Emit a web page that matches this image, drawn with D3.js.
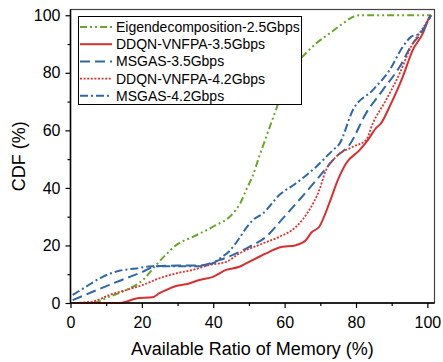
<!DOCTYPE html>
<html>
<head>
<meta charset="utf-8">
<script src="https://cdn.jsdelivr.net/npm/d3@7"></script>
<style>
  body { margin: 0; background: #fff; }
  text { font-family: Arial, "Liberation Sans", sans-serif; }
</style>
</head>
<body>
<script>
const w = 443, h = 362

// series: [available ratio %, CDF %]
const eigen25 = [[1,0],[6,0],[10.9,2.2],[15.6,4.5],[20.3,8],[24,13.2],[26.5,16.5],[29.6,20.1],[34.3,23],[39.9,26.5],[45.5,31.1],[47.5,34.5],[49.3,39.5],[51,44],[52.9,51],[54.2,55.5],[56.5,63.5],[58.5,70.5],[60.4,78.6],[62.3,82],[64.1,84.4],[68.8,90.2],[72.5,93.6],[76.3,97.1],[79.1,99.4],[81,100],[101,100]]
const ddqn35 = [[1,0],[13.7,0],[16,0.6],[18.4,1.6],[23,2],[24.9,3.4],[27,4.6],[29.6,5.9],[32.4,6.5],[36.1,8],[39.9,9.1],[43.6,11.5],[47.3,12.6],[49.2,13.8],[53.9,16.7],[55.7,17.8],[58.5,19.3],[63.2,20.1],[66,21.9],[67.5,24.5],[69.7,26.5],[72.5,34.6],[74.9,42.7],[77.2,48.5],[81,53.1],[83.3,56.6],[85.6,60.8],[87,62.4],[89.4,68.2],[91.2,73],[93.1,78.6],[95.9,87.9],[98.7,93.6],[100.6,99.4],[101,100]]
const msgas35 = [[0.6,1],[6.2,3.9],[10.9,6.3],[15.6,8.6],[20.3,10.9],[24,12.8],[30,13],[36,13],[41.7,14.9],[45.5,16.7],[50.1,19.5],[54.8,23],[59.5,29.4],[64.1,35.8],[69.7,43.9],[74.4,50.8],[78.2,55],[82.8,65.9],[87.5,74],[92.2,82],[95.9,90.2],[98.2,93.6],[101,100]]
const ddqn42 = [[0.6,0],[6.2,0.5],[10.9,2.8],[15.6,4.5],[20.3,6.3],[24.9,8.6],[29.6,10.3],[34.3,11.5],[38.9,13.2],[43.6,14.3],[47.3,17.2],[53.9,20.7],[58.5,23],[63.2,26.5],[66.9,32.3],[69.7,39.2],[71.6,46.2],[74.4,50.8],[79.1,54.3],[82.8,56.6],[84.7,62.4],[88.4,70.5],[92.2,79.7],[95.4,89],[99,96],[101,100]]
const msgas42 = [[0.6,2.8],[4.4,5.7],[9,9.1],[13.7,11.2],[18.4,12],[23,12.8],[29.6,12.8],[36.1,12.8],[39.9,13.8],[42,15.6],[44.5,18],[47.3,22.5],[49.2,26],[51.1,28.8],[53.9,31.1],[58.5,37.5],[63.2,41.6],[68.8,47.3],[73.5,53.1],[75.4,55.4],[79.1,67],[84.7,74],[89.4,80.9],[93.1,89],[95.4,92.5],[97.8,93.6],[101,100]]

const seriesNames = ['Eigendecomposition-2.5Gbps', 'DDQN-VNFPA-3.5Gbps', 'MSGAS-3.5Gbps', 'DDQN-VNFPA-4.2Gbps', 'MSGAS-4.2Gbps']
const seriesData = [eigen25, ddqn35, msgas35, ddqn42, msgas42]
const xTicks = [0, 20, 40, 60, 80, 100]
const yTicks = [0, 20, 40, 60, 80, 100]

const styles = [
    { color: '#6ba52a', dash: '7,3,2,3,2,3', width: 2 },
    { color: '#d8302f', dash: null, width: 2 },
    { color: '#2f67a8', dash: '10,5', width: 2 },
    { color: '#e0312f', dash: '2,1.6', width: 1.8 },
    { color: '#2f67a8', dash: '8,3,2,3', width: 2 }
]

const pLeft = 70.5, pRight = 434.5, pTop = 9.5, pBottom = 303

let svg = d3.select('body')
    .append('svg')
    .attr('width', w)
    .attr('height', h)

const xScale = d3.scaleLinear().domain([0, 102]).range([pLeft, pRight])
const yScale = d3.scaleLinear().domain([0, 102]).range([pBottom, pTop])

// frame
svg.append('rect')
    .attr('x', pLeft)
    .attr('y', pTop)
    .attr('width', pRight - pLeft)
    .attr('height', pBottom - pTop)
    .attr('fill', 'none')
    .attr('stroke', '#444')
    .attr('stroke-width', 1.2)

const line = d3.line()
    .x(d => xScale(d[0]))
    .y(d => yScale(d[1]))
    .curve(d3.curveMonotoneX)

svg.selectAll('.series')
    .data(seriesData)
    .enter()
    .append('path')
    .attr('class', 'series')
    .attr('d', d => line(d))
    .attr('fill', 'none')
    .attr('stroke', (d, i) => styles[i].color)
    .attr('stroke-width', (d, i) => styles[i].width)
    .attr('stroke-dasharray', (d, i) => styles[i].dash)

// axes with major and minor ticks
const xAxis = d3.axisBottom(xScale).tickValues(xTicks).tickSize(5).tickFormat(d3.format('d'))
const yAxis = d3.axisLeft(yScale).tickValues(yTicks).tickSize(5).tickFormat(d3.format('d'))
const xMinor = d3.axisBottom(xScale).tickValues([10, 30, 50, 70, 90]).tickSize(3).tickFormat('')
const yMinor = d3.axisLeft(yScale).tickValues([10, 30, 50, 70, 90]).tickSize(3).tickFormat('')

function styleAxis(g) {
    g.select('.domain').remove()
    g.selectAll('line').attr('stroke', '#000').attr('stroke-width', 1.2)
    g.selectAll('text').style('font-size', '16px').attr('fill', '#000')
}

svg.append('g').attr('transform', `translate(0, ${pBottom})`).call(xAxis).call(styleAxis)
    .selectAll('text').attr('dy', '1.05em')
svg.append('g').attr('transform', `translate(0, ${pBottom})`).call(xMinor).call(styleAxis)
svg.append('g').attr('transform', `translate(${pLeft}, 0)`).call(yAxis).call(styleAxis)
    .selectAll('text').attr('x', -10)
svg.append('g').attr('transform', `translate(${pLeft}, 0)`).call(yMinor).call(styleAxis)

// axis lines
svg.append('line').attr('x1', pLeft).attr('x2', pRight).attr('y1', pBottom).attr('y2', pBottom)
    .attr('stroke', '#000').attr('stroke-width', 1.5)
svg.append('line').attr('x1', pLeft).attr('x2', pLeft).attr('y1', pTop).attr('y2', pBottom)
    .attr('stroke', '#000').attr('stroke-width', 1.5)

svg.append('text')
    .attr('x', (pLeft + pRight) / 2)
    .attr('y', 355)
    .attr('text-anchor', 'middle')
    .style('font-size', '18px')
    .text('Available Ratio of Memory (%)')

svg.append('text')
    .attr('transform', `rotate(-90, 25, ${(pTop + pBottom) / 2})`)
    .attr('x', 25)
    .attr('y', (pTop + pBottom) / 2)
    .attr('text-anchor', 'middle')
    .style('font-size', '18px')
    .text('CDF (%)')

// legend
svg.append('rect')
    .attr('x', 78.5)
    .attr('y', 16.5)
    .attr('width', 223)
    .attr('height', 88)
    .attr('fill', '#fff')
    .attr('stroke', '#000')
    .attr('stroke-width', 1)

let legend = svg.selectAll('.legend')
    .data(seriesNames)
    .enter()
    .append('g')
    .attr('class', 'legend')
    .attr('transform', (d, i) => `translate(0, ${27 + i * 17.2})`)

legend.append('line')
    .attr('x1', 80)
    .attr('x2', 112)
    .attr('stroke', (d, i) => styles[i].color)
    .attr('stroke-width', (d, i) => styles[i].width)
    .attr('stroke-dasharray', (d, i) => styles[i].dash)

legend.append('text')
    .attr('x', 116)
    .attr('dy', '0.36em')
    .style('font-size', '14px')
    .text(d => d)
</script>
</body>
</html>
